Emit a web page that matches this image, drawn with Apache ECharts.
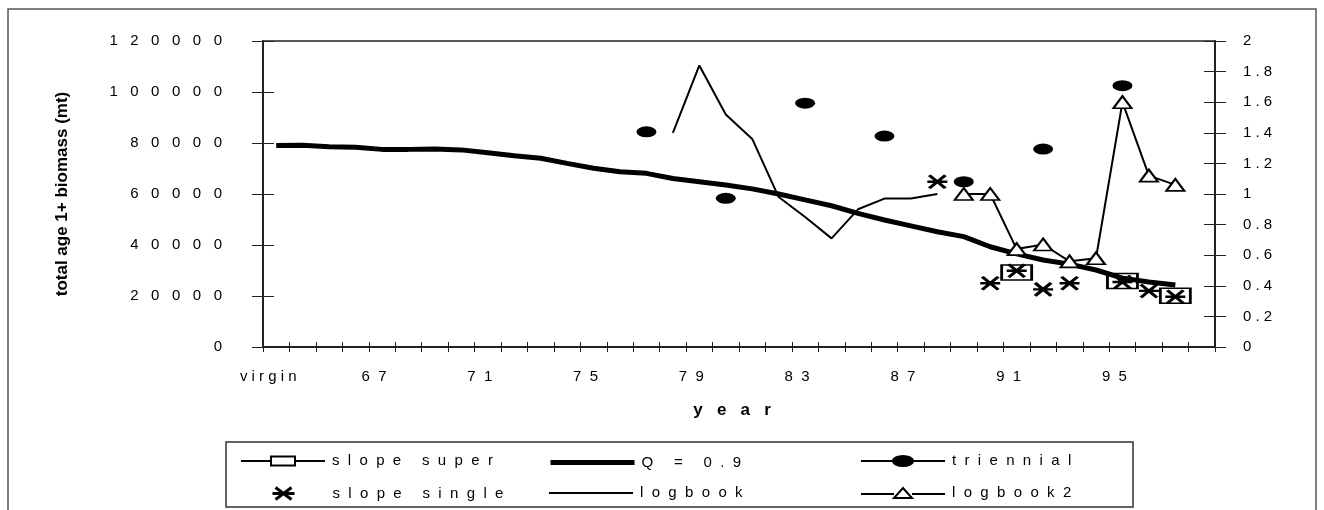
<!DOCTYPE html>
<html>
<head>
<meta charset="utf-8">
<script src="https://cdn.jsdelivr.net/npm/echarts@6/dist/echarts.min.js"></script>
<style>
html,body{margin:0;padding:0;background:#fff;}
#chart{width:1324px;height:510px;}
</style>
</head>
<body>
<div id="chart"></div>
<script>
// ---- data ----
const categories = ['virgin','64','65','66','67','68','69','70','71','72','73','74','75','76','77','78','79','80','81','82','83','84','85','86','87','88','89','90','91','92','93','94','95','96','97','98'];

// Q = 0.9 model biomass, virgin .. 97 (left axis, mt)
const qValues = [79000,79100,78500,78300,77500,77500,77600,77300,76200,75000,74000,72000,70100,68700,68100,66100,64800,63500,62000,60000,57700,55400,52400,49800,47500,45200,43300,39300,36500,34100,32500,30200,27000,25500,24300];

const triennialYears  = ['77','80','83','86','89','92','95'];
const triennialValues = [84400,58300,95600,82700,64800,77600,102500];

const superYears  = ['91','95','97'];
const superValues = [29200,25900,20100];

const singleYears  = ['88','90','91','92','93','95','96','97'];
const singleValues = [64800,25000,29900,22600,25000,25500,22000,19700];

// CPUE indices (right axis)
const logbookYears  = ['78','79','80','81','82','83','84','85','86','87','88'];
const logbookValues = [1.40,1.84,1.52,1.36,0.98,0.85,0.71,0.90,0.97,0.97,1.00];

const logbook2Years  = ['89','90','91','92','93','94','95','96','97'];
const logbook2Values = [1.00,1.00,0.64,0.67,0.56,0.58,1.60,1.12,1.06];

const leftTicks  = {min:0, max:120000, interval:20000};
const rightTicks = {min:0, max:2, interval:0.2};

// ---- helpers ----
function place(years, values){
  const out = categories.map(() => null);
  years.forEach((y,i) => { out[categories.indexOf(y)] = values[i]; });
  return out;
}
function spaced(s, sep){ return String(s).split('').join(sep); }
const qData = categories.map((c,i) => i < qValues.length ? qValues[i] : null);

const FONT = '"Liberation Sans", Arial, Helvetica, sans-serif';
const INK = '#000';
const AX = '#222';

const ELLIPSE  = 'path://M0,5.5A10,5.5,0,1,1,20,5.5A10,5.5,0,1,1,0,5.5Z';
const ASTERISK = 'path://M0,6.5L20,6.5M2,0L18,13M2,13L18,0';

const ICON_SUPER  = 'path://M0,0L0,0M84,14L84,14M0,7L30,7M30,2.5L54,2.5L54,11.5L30,11.5ZM54,7L84,7';
const ICON_Q      = 'path://M0,0L0,0M84,14L84,14M0,7L84,7';
const ICON_TRI    = 'path://M0,0L0,0M84,14L84,14M0,7L32,7M52,7L84,7M32,7A10,5,0,1,1,52,7A10,5,0,1,1,32,7Z';
const ICON_SINGLE = 'path://M0,0L0,0M84,14L84,14M31,7L53,7M34,1L50,13M34,13L50,1';
const ICON_LOG    = 'path://M0,0L0,0M84,14L84,14M0,7L84,7';
const ICON_LOG2   = 'path://M0,0L0,0M84,14L84,14M0,8L33,8M51,8L84,8M33,12L42,2L51,12Z';

function legendAt(name, left, top, icon, style){
  return {
    show:true, left:left, top:top, orient:'horizontal', padding:0,
    itemWidth:84, itemHeight:14, itemGap:0, selectedMode:false, symbolKeepAspect:false,
    textStyle:{fontSize:15, color:INK, fontFamily:FONT, padding:[0,0,0,2]},
    formatter: n => spaced(n,'  '),
    data:[{name:name, icon:icon, itemStyle:Object.assign({opacity:1}, style)}]
  };
}

const chart = echarts.init(document.getElementById('chart'), null, {renderer:'canvas'});

const option = {
  animation:false,
  backgroundColor:'#fff',
  textStyle:{fontFamily:FONT, color:INK},
  grid:{left:263, right:109, top:41, bottom:163, show:true, borderColor:AX, borderWidth:1.5, backgroundColor:'transparent'},
  legend:[
    legendAt('slope super', 240, 453, ICON_SUPER,  {color:'#fff', borderColor:INK, borderWidth:2}),
    legendAt('Q = 0.9',     548, 453, ICON_Q,      {color:INK, borderColor:INK, borderWidth:5}),
    legendAt('triennial',   860, 453, ICON_TRI,    {color:INK, borderColor:INK, borderWidth:2}),
    legendAt('slope single',240, 485, ICON_SINGLE, {color:'transparent', borderColor:INK, borderWidth:3}),
    legendAt('logbook',     548, 485, ICON_LOG,    {color:INK, borderColor:INK, borderWidth:2}),
    legendAt('logbook2',    860, 485, ICON_LOG2,   {color:'#fff', borderColor:INK, borderWidth:2})
  ],
  xAxis:[
    {
      type:'category', data:categories, boundaryGap:true, position:'bottom',
      axisLine:{show:true, lineStyle:{color:AX, width:2}},
      axisTick:{show:true, interval:0, length:5, lineStyle:{color:AX, width:1}},
      axisLabel:{interval:3, fontSize:15, color:INK, fontFamily:FONT, margin:22, padding:[0,16,0,0],
        formatter: v => v === 'virgin' ? spaced(v,' ') : spaced(v,'  ')},
      splitLine:{show:false},
      name: spaced('year','   '), nameLocation:'middle', nameGap:55,
      nameTextStyle:{fontSize:17, fontWeight:'bold', color:INK, fontFamily:FONT, padding:[0,14,0,0]}
    },
    {
      type:'category', data:categories, boundaryGap:true, position:'bottom',
      axisLine:{show:false},
      axisTick:{show:true, inside:true, interval:0, length:5, lineStyle:{color:AX, width:1}},
      axisLabel:{show:false}, splitLine:{show:false}
    }
  ],
  yAxis:[
    {
      type:'value', position:'left', min:leftTicks.min, max:leftTicks.max, interval:leftTicks.interval,
      axisLine:{show:true, lineStyle:{color:AX, width:2}},
      axisTick:{show:true, length:11, lineStyle:{color:AX, width:1}},
      axisLabel:{fontSize:15, color:INK, fontFamily:FONT, margin:41, formatter: v => spaced(v,'   ')},
      splitLine:{show:false},
      name:'total age 1+ biomass (mt)', nameLocation:'middle', nameGap:192,
      nameTextStyle:{fontSize:17, fontWeight:'bold', color:INK, fontFamily:FONT}
    },
    {
      type:'value', position:'right', min:rightTicks.min, max:rightTicks.max, interval:rightTicks.interval,
      axisLine:{show:true, lineStyle:{color:AX, width:2}},
      axisTick:{show:true, length:11, lineStyle:{color:AX, width:1}},
      axisLabel:{fontSize:15, color:INK, fontFamily:FONT, margin:28,
        formatter: v => spaced(String(+(+v).toFixed(1)),' ')},
      splitLine:{show:false}
    },
    {
      type:'value', position:'left', min:leftTicks.min, max:leftTicks.max, interval:leftTicks.interval,
      axisLine:{show:false}, axisTick:{show:true, inside:true, length:11, lineStyle:{color:AX, width:1}},
      axisLabel:{show:false}, splitLine:{show:false}
    },
    {
      type:'value', position:'right', min:rightTicks.min, max:rightTicks.max, interval:rightTicks.interval,
      axisLine:{show:false}, axisTick:{show:true, inside:true, length:11, lineStyle:{color:AX, width:1}},
      axisLabel:{show:false}, splitLine:{show:false}
    }
  ],
  series:[
    {
      name:'slope super', type:'line', xAxisIndex:0, yAxisIndex:0, data:place(superYears, superValues),
      symbol:'rect', symbolSize:[30,15], showSymbol:true, showAllSymbol:true, connectNulls:false,
      itemStyle:{color:'transparent', borderColor:INK, borderWidth:2, opacity:1},
      lineStyle:{color:INK, width:2}, emphasis:{disabled:true}, z:3
    },
    {
      name:'Q = 0.9', type:'line', xAxisIndex:0, yAxisIndex:0, data:qData,
      symbol:'none', showSymbol:false, lineStyle:{color:INK, width:5}, itemStyle:{color:INK},
      emphasis:{disabled:true}, z:2
    },
    {
      name:'triennial', type:'line', xAxisIndex:0, yAxisIndex:0, data:place(triennialYears, triennialValues),
      symbol:ELLIPSE, symbolSize:[20,11], showSymbol:true, showAllSymbol:true, connectNulls:false,
      itemStyle:{color:INK, borderColor:INK, borderWidth:0, opacity:1}, lineStyle:{color:INK, width:2},
      emphasis:{disabled:true}, z:3
    },
    {
      name:'slope single', type:'scatter', xAxisIndex:0, yAxisIndex:0, data:place(singleYears, singleValues),
      symbol:ASTERISK, symbolSize:[20,13],
      itemStyle:{color:'transparent', borderColor:INK, borderWidth:3, opacity:1},
      emphasis:{disabled:true}, z:4
    },
    {
      name:'logbook', type:'line', xAxisIndex:0, yAxisIndex:1, data:place(logbookYears, logbookValues),
      symbol:'none', showSymbol:false, lineStyle:{color:INK, width:2}, itemStyle:{color:INK},
      emphasis:{disabled:true}, z:3
    },
    {
      name:'logbook2', type:'line', xAxisIndex:0, yAxisIndex:1, data:place(logbook2Years, logbook2Values),
      symbol:'triangle', symbolSize:[18,12], showSymbol:true, showAllSymbol:true, connectNulls:false,
      itemStyle:{color:'#fff', borderColor:INK, borderWidth:2, opacity:1}, lineStyle:{color:INK, width:2},
      emphasis:{disabled:true}, z:4
    }
  ],
  graphic:[
    {type:'rect', silent:true, z:-10, shape:{x:8, y:9, width:1308, height:520},
     style:{fill:'none', stroke:'#555', lineWidth:1.5}},
    {type:'rect', silent:true, z:-10, shape:{x:226, y:442, width:907, height:65},
     style:{fill:'none', stroke:'#333', lineWidth:1.5}}
  ]
};

chart.setOption(option);
</script>
</body>
</html>
